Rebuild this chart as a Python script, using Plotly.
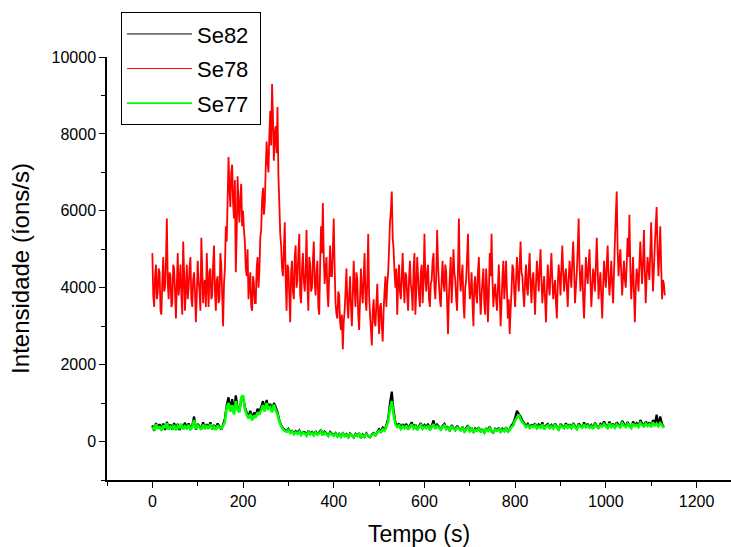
import numpy as np
import plotly.graph_objects as go

# time axes (s)
tempo_78 = np.arange(0, 1131, 2)   # Se78 sampled every 2 s
tempo = np.arange(0, 1129, 4)      # Se82 / Se77 sampled every 4 s

series_names = ["Se82", "Se78", "Se77"]

se78 = [
    4900, 3800, 3500, 4300, 4600, 3700, 3900, 4500, 4400, 3400, 3300, 4200, 4800, 3900, 4000, 4700, 5800, 4100, 3700, 4400,
    4300, 3500, 3600, 4600, 4500, 3900, 3200, 4100, 4900, 3800, 4100, 4600, 3800, 3300, 5200, 4400, 3400, 4000, 4600, 3700,
    4000, 4500, 4800, 3700, 3500, 4200, 4400, 3900, 3100, 3800, 4700, 4200, 3900, 3400, 5300, 4500, 3600, 4100, 4200, 3500,
    4900, 4100, 3500, 4400, 4500, 3700, 3800, 4600, 5100, 3900, 3400, 4200, 4300, 3600, 3700, 4900, 4600, 3800, 3000, 4100,
    4500, 5600, 5200, 6300, 7400, 6600, 6100, 7000, 7200, 6200, 5800, 6800, 4400, 5400, 6900, 6100, 5700, 6400, 6700, 5600,
    6000, 5500, 5200, 4500, 4300, 5000, 3700, 4100, 4400, 3500, 3400, 4300, 4100, 3600, 3600, 4500, 4800, 4000, 4400, 5300,
    5500, 6300, 6600, 5900, 6200, 7100, 7800, 7300, 7000, 8000, 8600, 7700, 9300, 8400, 7300, 8000, 8200, 7500, 8700, 6900,
    6200, 5400, 5100, 4500, 4300, 5000, 5700, 4200, 3400, 4600, 4500, 3800, 3100, 4400, 4700, 3900, 3700, 4800, 5100, 4000,
    4200, 4900, 5400, 3800, 3600, 4500, 4900, 4200, 3900, 4400, 5500, 4000, 3400, 4800, 4600, 3900, 4000, 4700, 5200, 4100,
    3800, 4400, 4700, 3500, 3300, 4600, 5600, 4900, 6200, 4800, 4100, 4500, 4800, 3900, 3500, 4400, 5100, 4300, 4300, 5000,
    5800, 4500, 3600, 3300, 3200, 3900, 3800, 3100, 2900, 3300, 2400, 3100, 3400, 3900, 4500, 3600, 3200, 3800, 4300, 3500,
    3000, 3800, 4700, 4000, 3500, 4400, 4200, 3300, 2900, 3700, 4500, 3900, 3600, 4300, 4900, 3700, 3400, 4200, 5400, 3800,
    3300, 2900, 2500, 3400, 3700, 3100, 3000, 3600, 4100, 3300, 2800, 3500, 3600, 3000, 2600, 3400, 3900, 4300, 3500, 4100,
    4400, 5000, 5700, 6000, 6500, 5300, 5000, 4400, 4000, 4500, 3300, 4100, 4600, 3900, 3700, 4300, 4900, 4100, 3600, 4400,
    4300, 3800, 3400, 4200, 4700, 4100, 3900, 3400, 4500, 4900, 3300, 3900, 4800, 4300, 3800, 3500, 4400, 4600, 3600, 4100,
    5400, 4300, 3900, 4400, 4600, 3700, 3500, 4100, 4200, 4700, 4900, 4000, 3700, 4300, 5500, 4600, 4100, 3700, 3500, 4200,
    4700, 4100, 3900, 4600, 4400, 3600, 2800, 3800, 4300, 4800, 3600, 4200, 5000, 4400, 4200, 3700, 3400, 4500, 5800, 4300,
    3900, 4300, 4600, 3600, 3200, 4000, 4200, 4800, 5400, 4200, 3700, 3900, 4400, 3600, 3000, 4100, 4300, 3800, 3600, 4400,
    4800, 3900, 3300, 3800, 4200, 4500, 3600, 3300, 4500, 4000, 3100, 3800, 4900, 4300, 5400, 4200, 3500, 3900, 4100, 3700,
    3400, 4000, 4600, 3800, 3000, 3600, 4300, 4700, 3700, 4100, 4700, 3900, 3200, 3700, 2800, 3400, 3900, 4600, 4500, 3900,
    3500, 4200, 4800, 4300, 3900, 4600, 5200, 4400, 4300, 3800, 3500, 4200, 4600, 4000, 3800, 4500, 4900, 4100, 3600, 4200,
    4400, 3900, 3300, 4100, 4700, 4300, 3900, 4500, 5000, 4200, 3600, 4000, 4300, 3700, 3100, 3900, 4600, 4100, 3800, 4400,
    4900, 4200, 3700, 4000, 4200, 3600, 3200, 4100, 4600, 4300, 3800, 4500, 5100, 4400, 3900, 4300, 4500, 4000, 3500, 4200,
    4700, 4300, 4000, 4700, 5200, 4500, 3600, 4000, 4400, 5000, 5800, 4600, 3900, 4300, 4600, 3700, 3200, 4000, 4800, 4400,
    4100, 4600, 5000, 4200, 3500, 4000, 4500, 4300, 3900, 4600, 5300, 4500, 3700, 4100, 4400, 3800, 3200, 4000, 4700, 4300,
    4000, 4600, 5100, 4300, 3800, 4200, 4700, 4100, 3600, 4400, 5200, 5900, 6500, 5000, 4300, 4700, 5000, 4400, 3800, 4300,
    4700, 4200, 4000, 4600, 5300, 4800, 5900, 4500, 3700, 4200, 4800, 3900, 3100, 4000, 4500, 4300, 3900, 4600, 5200, 4600,
    4100, 4700, 5500, 4400, 3600, 4300, 4800, 4500, 4200, 4900, 5700, 4700, 3900, 4500, 5100, 5600, 6100, 5000, 4300, 4900,
    5600, 4600, 3700, 4200, 4100, 3800,
]

se77 = [
    380, 300, 450, 330, 400, 280, 420, 350, 480, 310,
    390, 340, 430, 290, 410, 360, 460, 320, 400, 350,
    430, 300, 380, 560, 330, 420, 370, 310, 440, 360,
    400, 330, 450, 350, 390, 300, 420, 360, 340, 400,
    520, 880, 1000, 780, 950, 700, 1050, 820, 760, 1150,
    1200, 850, 700, 600, 720, 550, 680, 620, 760, 700,
    820, 950, 780, 1000, 850, 900, 760, 960, 820, 700,
    520, 400, 320, 280, 250, 300, 220, 260, 190, 240,
    200, 260, 170, 230, 210, 150, 250, 190, 220, 160,
    240, 180, 210, 270, 160, 230, 190, 140, 220, 180,
    150, 200, 130, 180, 120, 210, 140, 170, 110, 190,
    150, 120, 180, 140, 200, 110, 160, 130, 190, 150,
    120, 170, 200, 160, 230, 280, 250, 320, 280, 380,
    520, 850, 1050, 700, 450, 380, 420, 330, 400, 350,
    420, 310, 380, 450, 340, 400, 300, 370, 430, 330,
    390, 350, 420, 300, 380, 450, 330, 400, 360, 310,
    380, 420, 320, 360, 280, 400, 340, 300, 370, 330,
    290, 350, 260, 320, 380, 270, 330, 250, 310, 280,
    340, 260, 300, 230, 320, 280, 350, 270, 240, 310,
    280, 330, 250, 300, 270, 340, 260, 310, 380, 420,
    550, 620, 700, 580, 500, 450, 380, 420, 350, 400,
    380, 430, 340, 400, 360, 450, 320, 390, 420, 350,
    400, 340, 430, 370, 310, 420, 380, 350, 440, 360,
    410, 350, 440, 380, 320, 430, 390, 360, 450, 370,
    420, 360, 400, 330, 440, 380, 350, 420, 390, 460,
    400, 350, 470, 380, 430, 360, 450, 410, 370, 480,
    420, 380, 460, 400, 350, 470, 410, 440, 380, 490,
    430, 390, 470, 410, 450, 380, 500, 420, 460, 400,
    480, 420, 350,
]

se82 = [
    420, 280, 480, 360, 450, 320, 470, 300, 510, 350,
    440, 310, 480, 340, 460, 300, 420, 380, 490, 330,
    470, 340, 420, 650, 310, 460, 390, 350, 500, 330,
    450, 360, 500, 320, 430, 340, 470, 390, 310, 440,
    600, 950, 1150, 820, 1100, 760, 1200, 880, 800, 1100,
    1150, 900, 760, 650, 800, 600, 750, 690, 850, 780,
    900, 1050, 820, 1080, 880, 980, 800, 1000, 900, 760,
    560, 430, 350, 300, 270, 330, 240, 280, 210, 270,
    230, 290, 180, 250, 240, 170, 280, 200, 250, 180,
    270, 190, 240, 300, 170, 260, 210, 150, 250, 200,
    170, 220, 140, 200, 130, 230, 150, 190, 100, 210,
    160, 110, 200, 150, 220, 90, 180, 120, 210, 140,
    110, 190, 220, 150, 250, 320, 260, 360, 300, 420,
    600, 1000, 1300, 800, 500, 400, 470, 350, 450, 380,
    460, 330, 420, 500, 360, 440, 310, 400, 480, 350,
    430, 370, 460, 300, 410, 550, 350, 440, 380, 320,
    410, 460, 330, 390, 270, 430, 360, 300, 410, 340,
    300, 380, 250, 350, 420, 260, 360, 230, 340, 290,
    370, 250, 320, 220, 350, 290, 390, 260, 230, 330,
    290, 360, 240, 330, 270, 370, 250, 330, 420, 480,
    620, 800, 720, 650, 540, 480, 400, 460, 370, 430,
    410, 470, 350, 440, 380, 500, 330, 420, 460, 370,
    430, 350, 470, 390, 300, 460, 400, 360, 480, 370,
    450, 360, 480, 400, 330, 470, 410, 370, 500, 380,
    460, 370, 430, 340, 490, 400, 360, 460, 410, 520,
    430, 360, 520, 390, 470, 370, 500, 440, 380, 540,
    460, 390, 510, 420, 360, 520, 430, 480, 390, 560,
    470, 400, 520, 430, 500, 390, 560, 450, 700, 420,
    650, 450, 380,
]

x_ticks = [0, 200, 400, 600, 800, 1000, 1200]
y_ticks = [0, 2000, 4000, 6000, 8000, 10000]

FONT = "Liberation Sans, Arial, sans-serif"
colors = ["#000000", "#FF0000", "#00FF00"]

fig = go.Figure()
# data traces (no legend entries; legend uses thin-line entries below)
fig.add_trace(go.Scatter(x=tempo, y=se82, mode="lines", name=series_names[0], showlegend=False,
                         line=dict(color=colors[0], width=2.2, simplify=False)))
fig.add_trace(go.Scatter(x=tempo_78, y=se78, mode="lines", name=series_names[1], showlegend=False,
                         line=dict(color=colors[1], width=1.8, simplify=False)))
fig.add_trace(go.Scatter(x=tempo, y=se77, mode="lines", name=series_names[2], showlegend=False,
                         line=dict(color=colors[2], width=2.6, simplify=False)))

# legend entries with thin sample lines
for nm, col, w, grp in zip(series_names, colors, [1.0, 1.0, 1.6], ["a", "b", "c"]):
    fig.add_trace(go.Scatter(x=[None], y=[None], mode="lines", name=nm + "\u00a0",
                             line=dict(color=col, width=w), legendgroup=grp, showlegend=True,
                             hoverinfo="skip"))

axis_common = dict(
    showgrid=False, zeroline=False, showline=True, linecolor="black", linewidth=1.5,
    ticks="outside", ticklen=6, tickwidth=1.2, tickcolor="black",
    tickfont=dict(family=FONT, size=16, color="black"),
    tickformat="d",
)

fig.update_xaxes(
    range=[-100, 1276], tickvals=x_ticks, **axis_common,
    minor=dict(ticks="outside", dtick=100, tick0=0, ticklen=4, tickwidth=1.2, tickcolor="black"),
    title=dict(text="Tempo (s)", font=dict(family=FONT, size=23, color="black"), standoff=17),
)
fig.update_yaxes(
    range=[-1000, 10000], tickvals=y_ticks, **axis_common,
    minor=dict(ticks="outside", dtick=1000, tick0=0, ticklen=4, tickwidth=1.2, tickcolor="black"),
    title=dict(text="Intensidade (íons/s)", font=dict(family=FONT, size=24, color="black"), standoff=15),
)

fig.update_layout(
    width=731, height=547,
    margin=dict(l=107, r=0, t=57, b=67, autoexpand=False),
    plot_bgcolor="white", paper_bgcolor="white",
    legend=dict(
        x=0.0224, y=1.106, xanchor="left", yanchor="top",
        bordercolor="black", borderwidth=1, bgcolor="white",
        font=dict(family=FONT, size=22, color="black"),
        itemwidth=65, tracegroupgap=3,
    ),
    showlegend=True,
)

fig.write_html("out.html")
